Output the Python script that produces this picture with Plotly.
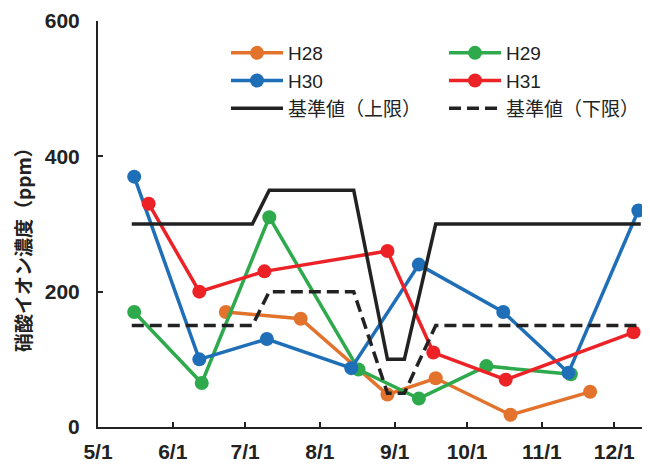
import plotly.graph_objects as go

YEAR = "2019"

h28_dates = ["06-23", "07-24", "08-29", "09-18", "10-19", "11-21"]
h28_vals = [170, 160, 48, 72, 18, 52]

h29_dates = ["05-16", "06-13", "07-11", "08-17", "09-11", "10-09", "11-13"]
h29_vals = [170, 65, 310, 85, 42, 90, 78]

h30_dates = ["05-16", "06-12", "07-10", "08-14", "09-11", "10-16", "11-12", "12-11"]
h30_vals = [370, 100, 130, 87, 240, 170, 80, 320]

h31_dates = ["05-22", "06-12", "07-09", "08-29", "09-17", "10-17", "12-09"]
h31_vals = [330, 200, 230, 260, 110, 70, 140]

std_dates = ["05-15", "07-04", "07-11", "08-15", "08-29", "09-05", "09-18", "12-12"]
upper_vals = [300, 300, 350, 350, 100, 100, 300, 300]
lower_vals = [150, 150, 200, 200, 50, 50, 150, 150]

tick_dates = ["05-01", "06-01", "07-01", "08-01", "09-01", "10-01", "11-01", "12-01"]
tick_labels = ["5/1", "6/1", "7/1", "8/1", "9/1", "10/1", "11/1", "12/1"]

y_title = "硝酸イオン濃度（ppm）"

def d(lst):
    return [f"{YEAR}-{s}" for s in lst]

NUM_FONT = "Liberation Sans, Arial, sans-serif"
CJK_FONT = "Liberation Sans, Noto Sans CJK JP"

fig = go.Figure()

series = [
    ("H28", h28_dates, h28_vals, "#E2722C"),
    ("H29", h29_dates, h29_vals, "#2EAA4C"),
    ("H30", h30_dates, h30_vals, "#1F6EB8"),
    ("H31", h31_dates, h31_vals, "#EC2227"),
]
for name, ds, vs, col in series:
    fig.add_trace(go.Scatter(
        x=d(ds), y=vs, name=name, mode="lines+markers",
        line=dict(color=col, width=3.5),
        marker=dict(color=col, size=14, line=dict(width=0)),
    ))

fig.add_trace(go.Scatter(
    x=d(std_dates), y=upper_vals, name="基準値（上限）", mode="lines",
    line=dict(color="#222222", width=3.5),
))
fig.add_trace(go.Scatter(
    x=d(std_dates), y=lower_vals, name="基準値（下限）", mode="lines",
    line=dict(color="#222222", width=3.5, dash="12px,6px"),
))

# page body has an 8px margin; figure is sized/offset to compensate
fig.update_layout(
    width=642, height=456,
    margin=dict(l=90, r=2, t=13, b=37, autoexpand=False),
    paper_bgcolor="white", plot_bgcolor="white",
    showlegend=True,
    legend=dict(
        orientation="h",
        xref="paper", yref="paper",
        x=(218 - 90) / 550, y=0.968,
        xanchor="left", yanchor="top",
        entrywidth=151, entrywidthmode="pixels",
        itemwidth=52,
        font=dict(family=CJK_FONT, size=19, color="#222222"),
        bgcolor="rgba(0,0,0,0)",
    ),
    xaxis=dict(
        type="date",
        range=[f"{YEAR}-05-01", f"{YEAR}-12-15"],
        tickvals=d(tick_dates), ticktext=tick_labels,
        ticks="inside", ticklen=5, tickwidth=1.5, tickcolor="#222222",
        showline=True, linecolor="#222222", linewidth=2,
        showgrid=False, zeroline=False,
        tickfont=dict(family=NUM_FONT, size=21, color="#222222", weight="bold"),
        ticklabelstandoff=5,
    ),
    yaxis=dict(
        range=[0, 600], tickvals=[0, 200, 400, 600],
        ticks="inside", ticklen=5, tickwidth=1.5, tickcolor="#222222",
        showline=True, linecolor="#222222", linewidth=2,
        showgrid=False, zeroline=False,
        tickfont=dict(family=NUM_FONT, size=21, color="#222222", weight="bold"),
        ticklabelstandoff=12,
    ),
    annotations=[dict(
        text=y_title, textangle=-90, showarrow=False,
        xref="paper", yref="paper",
        x=(14 - 90) / 550, y=(419 - 237) / 406,
        xanchor="center", yanchor="middle",
        font=dict(family="Noto Sans CJK JP", size=19, color="#222222", weight="bold"),
    )],
)

fig.write_html("out.html")
